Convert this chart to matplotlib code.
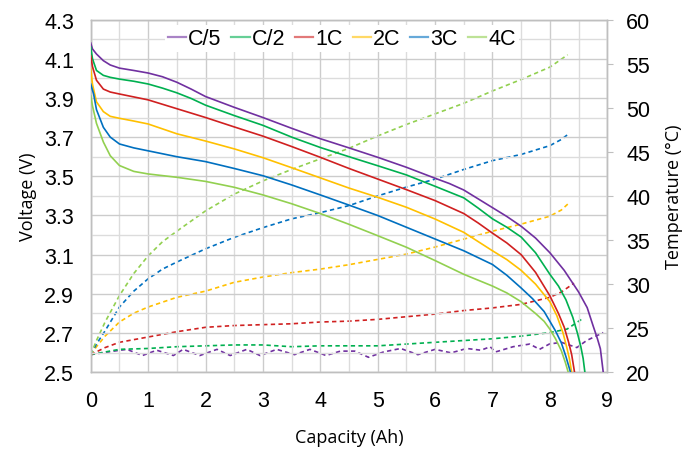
import matplotlib
matplotlib.use("Agg")
import matplotlib.pyplot as plt
from matplotlib.ticker import MultipleLocator

plt.rcParams["font.family"] = ["Liberation Sans", "DejaVu Sans"]

# ---- data ---------------------------------------------------------------- #
rates = ["C/5", "C/2", "1C", "2C", "3C", "4C"]
colors = ["#7030A0", "#00B050", "#D02020", "#FFC000", "#0070C0", "#92D050"]

# voltage (V) vs capacity (Ah)
v_cap = {
    "C/5": [0, 0.03, 0.1, 0.22, 0.34, 0.5, 0.75, 1, 1.25, 1.5, 1.75, 2, 2.5, 3, 3.5,
            4, 4.5, 5, 5.5, 6, 6.25, 6.5, 6.75, 7, 7.25, 7.5, 7.75, 8, 8.25, 8.5,
            8.65, 8.75, 8.83, 8.88, 8.93],
    "C/2": [0, 0.03, 0.1, 0.22, 0.34, 0.5, 0.75, 1, 1.25, 1.5, 1.75, 2, 2.5, 3, 3.5,
            4, 4.5, 5, 5.5, 6, 6.5, 6.75, 7, 7.25, 7.5, 7.75, 8, 8.15, 8.28, 8.4,
            8.48, 8.54, 8.58, 8.61],
    "1C": [0, 0.03, 0.1, 0.22, 0.34, 0.5, 0.75, 1, 1.5, 2, 2.5, 3, 3.5, 4, 4.5, 5,
           5.5, 6, 6.5, 6.75, 7, 7.25, 7.5, 7.75, 8, 8.15, 8.25, 8.33, 8.38, 8.43],
    "2C": [0, 0.03, 0.1, 0.22, 0.34, 0.5, 0.75, 1, 1.5, 2, 2.5, 3, 3.5, 4, 4.5, 5,
           5.5, 6, 6.5, 7, 7.25, 7.5, 7.75, 8, 8.12, 8.23, 8.3, 8.34, 8.38],
    "3C": [0, 0.05, 0.1, 0.22, 0.34, 0.5, 0.75, 1, 1.5, 2, 2.5, 3, 3.5, 4, 4.5, 5,
           5.5, 6, 6.5, 7, 7.25, 7.5, 7.7, 7.9, 8.1, 8.2, 8.28, 8.33, 8.36],
    "4C": [0, 0.03, 0.1, 0.22, 0.34, 0.5, 0.75, 1, 1.5, 2, 2.5, 3, 3.5, 4, 4.5, 5,
           5.5, 6, 6.5, 7, 7.25, 7.5, 7.75, 7.9, 8.0, 8.1, 8.2, 8.27, 8.32],
}
voltage = {
    "C/5": [4.18, 4.15, 4.124, 4.09, 4.068, 4.052, 4.04, 4.027, 4.008, 3.98, 3.945,
            3.907, 3.852, 3.80, 3.745, 3.692, 3.645, 3.597, 3.546, 3.49, 3.463, 3.43,
            3.385, 3.34, 3.295, 3.245, 3.185, 3.11, 3.02, 2.91, 2.83, 2.74, 2.67,
            2.62, 2.5],
    "C/2": [4.16, 4.10, 4.04, 4.015, 4.005, 3.996, 3.985, 3.971, 3.95, 3.926, 3.897,
            3.863, 3.81, 3.76, 3.70, 3.647, 3.60, 3.554, 3.507, 3.449, 3.39, 3.338,
            3.283, 3.24, 3.19, 3.11, 3.0, 2.94, 2.87, 2.78, 2.70, 2.63, 2.57, 2.5],
    "1C": [4.115, 4.06, 3.99, 3.945, 3.93, 3.92, 3.905, 3.89, 3.845, 3.80, 3.752,
           3.705, 3.652, 3.597, 3.54, 3.486, 3.432, 3.376, 3.31, 3.262, 3.21, 3.16,
           3.10, 3.01, 2.89, 2.80, 2.73, 2.65, 2.59, 2.5],
    "2C": [4.05, 3.97, 3.88, 3.83, 3.806, 3.796, 3.782, 3.767, 3.717, 3.68, 3.64,
           3.595, 3.544, 3.492, 3.44, 3.393, 3.342, 3.282, 3.214, 3.12, 3.075, 3.02,
           2.95, 2.86, 2.79, 2.70, 2.62, 2.57, 2.5],
    "3C": [3.97, 3.92, 3.84, 3.75, 3.70, 3.665, 3.645, 3.63, 3.60, 3.575, 3.54,
           3.503, 3.456, 3.405, 3.353, 3.30, 3.24, 3.18, 3.12, 3.05, 2.995, 2.93,
           2.875, 2.81, 2.71, 2.65, 2.58, 2.53, 2.5],
    "4C": [3.91, 3.86, 3.77, 3.675, 3.605, 3.555, 3.525, 3.512, 3.495, 3.474, 3.444,
           3.405, 3.36, 3.31, 3.255, 3.197, 3.138, 3.07, 3.0, 2.94, 2.905, 2.86,
           2.80, 2.76, 2.72, 2.67, 2.61, 2.55, 2.5],
}

# temperature (°C) vs capacity (Ah)
t_cap = {
    "C/5": [0, 0.2, 0.4, 0.63, 0.9, 1.15, 1.44, 1.61, 1.9, 2.2, 2.43, 2.72, 2.95,
            3.24, 3.55, 3.82, 4.1, 4.35, 4.6, 4.84, 5.1, 5.4, 5.7, 6.0, 6.28, 6.55,
            6.8, 6.96, 7.05, 7.36, 7.65, 7.82, 7.99, 8.2, 8.47, 8.64, 8.93],
    "C/2": [0, 0.25, 0.5, 1, 1.5, 2, 2.5, 3, 3.5, 4, 4.5, 5, 5.5, 6, 6.5, 7, 7.5, 8,
            8.3, 8.55],
    "1C": [0, 0.25, 0.5, 1, 1.5, 2, 2.5, 3, 3.5, 4, 4.5, 5, 5.5, 6, 6.5, 7, 7.5, 8,
           8.2, 8.42],
    "2C": [0, 0.1, 0.25, 0.5, 0.75, 1, 1.5, 2, 2.5, 3, 3.5, 4, 4.5, 5, 5.5, 6, 6.5,
           7, 7.5, 8, 8.2, 8.35],
    "3C": [0, 0.1, 0.25, 0.5, 0.75, 1, 1.25, 1.5, 2, 2.5, 3, 3.5, 4, 4.5, 5, 5.5, 6,
           6.5, 7, 7.5, 8, 8.2, 8.32],
    "4C": [0, 0.1, 0.25, 0.5, 0.75, 1, 1.25, 1.5, 2, 2.5, 3, 3.5, 4, 4.5, 5, 5.5, 6,
           6.5, 7, 7.5, 8, 8.31],
}
temperature = {
    "C/5": [22.0, 22.2, 22.4, 22.6, 21.9, 22.5, 21.9, 22.6, 21.9, 22.6, 21.9, 22.6,
            21.9, 22.6, 22.0, 22.6, 21.9, 22.4, 22.4, 21.7, 22.3, 22.7, 22.0, 22.6,
            22.2, 22.7, 22.5, 22.9, 22.3, 22.9, 23.2, 22.6, 23.2, 23.4, 22.8, 23.6,
            24.5],
    "C/2": [22.0, 22.3, 22.6, 22.7, 22.9, 23.0, 23.1, 23.1, 22.9, 23.0, 23.0, 23.0,
            23.2, 23.4, 23.6, 23.8, 24.1, 24.5, 24.9, 26.0],
    "1C": [22.0, 22.8, 23.4, 24.0, 24.6, 25.1, 25.3, 25.4, 25.5, 25.7, 25.8, 26.0,
           26.3, 26.6, 27.0, 27.3, 27.7, 28.5, 29.1, 30.1],
    "2C": [22.0, 22.9, 24.1, 25.7, 26.7, 27.4, 28.5, 29.2, 30.2, 30.8, 31.3, 31.7,
           32.2, 32.8, 33.4, 34.2, 35.1, 36.0, 36.8, 37.7, 38.4, 39.3],
    "3C": [22.0, 23.2, 24.7, 27.4, 29.2, 30.6, 31.7, 32.5, 34.0, 35.3, 36.4, 37.4,
           38.1, 38.9, 40.0, 41.0, 41.9, 43.0, 44.0, 44.7, 45.7, 46.4, 47.0],
    "4C": [22.0, 23.6, 25.7, 28.7, 31.2, 33.2, 34.8, 36.0, 38.3, 40.2, 41.7, 43.0,
           44.2, 45.4, 46.8, 48.1, 49.3, 50.5, 51.9, 53.2, 54.6, 56.0],
}

# ---- plot ----------------------------------------------------------------- #
label_font = ["Open Sans", "DejaVu Sans"]

fig = plt.figure(figsize=(6.98, 4.56), dpi=100)
ax = fig.add_axes([0.130, 0.1814, 0.740, 0.7736])
ax2 = ax.twinx()

for name, c in zip(rates, colors):
    ax.plot(v_cap[name], voltage[name], color=c, lw=1.2, label=name, zorder=3)
    ax2.plot(t_cap[name], temperature[name], color=c, lw=1.2, dashes=(2.6, 2.0),
             zorder=3)

ax.set_xlim(0, 9)
ax.set_ylim(2.5, 4.3)
ax2.set_ylim(20, 60)

ax.xaxis.set_major_locator(MultipleLocator(1))
ax.xaxis.set_minor_locator(MultipleLocator(0.5))
ax.yaxis.set_major_locator(MultipleLocator(0.2, offset=0.1))
ax.yaxis.set_minor_locator(MultipleLocator(0.1))
ax2.yaxis.set_major_locator(MultipleLocator(5))

ax.grid(which="major", color="#cccccc", lw=1.0)
ax.grid(which="minor", color="#dcdcdc", lw=1.0)
ax.set_axisbelow(True)

ax.tick_params(axis="both", which="both", length=0, labelsize=15.5)
ax.tick_params(axis="x", pad=13)
ax.tick_params(axis="y", pad=12)
ax2.tick_params(axis="y", length=4.5, color="#bfbfbf", labelsize=15.5, pad=9)

for a in (ax, ax2):
    for s in a.spines.values():
        s.set_color("#bfbfbf")
        s.set_linewidth(1.0)

ax.set_xlabel("Capacity (Ah)", fontsize=13, family=label_font, labelpad=12)
ax.set_ylabel("Voltage (V)", fontsize=13, family=label_font, labelpad=5)
ax2.set_ylabel("Temperature (°C)", fontsize=13, family=label_font, labelpad=11)

leg = ax.legend(loc="upper center", bbox_to_anchor=(0.486, 0.985), ncol=6,
                frameon=True, fancybox=False, edgecolor="none", framealpha=1.0,
                prop={"size": 15.5}, handlelength=0.85,
                handletextpad=0.1, columnspacing=0.45, borderpad=0.15,
                borderaxespad=0.0)
for h in leg.get_lines():
    h.set_alpha(0.6)
    h.set_linewidth(1.6)
leg.set_zorder(10)
ax.set_zorder(ax2.get_zorder() + 1)
ax.patch.set_visible(False)

fig.savefig("out.png", dpi=100)
